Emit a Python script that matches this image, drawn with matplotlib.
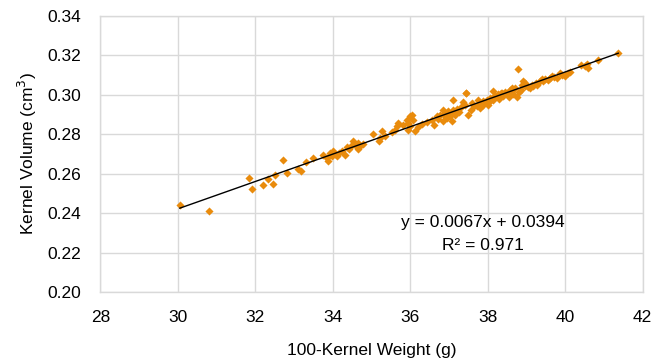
import numpy as np
import matplotlib
matplotlib.use("Agg")
import matplotlib.pyplot as plt

plt.rcParams['font.family'] = ['Liberation Sans', 'DejaVu Sans']

weight_g = [
    30.05, 30.80, 31.84, 31.91, 32.19, 32.32, 32.46, 32.51, 32.72, 32.81,
    33.11, 33.19, 33.30, 33.49, 33.75, 33.84, 33.88, 34.01, 33.93, 34.23,
    34.31, 34.36, 34.53, 34.57, 34.66, 34.70, 34.49, 34.62, 34.66, 34.10,
    35.03, 35.22, 35.20, 35.28, 35.53, 35.60, 35.69, 35.65, 35.91, 35.95,
    35.99, 36.04, 36.08, 35.99, 36.12, 35.95, 36.44, 36.62, 36.68, 36.77,
    36.85, 36.89, 36.94, 37.02, 37.07, 36.85, 36.98, 37.11, 37.15, 37.11,
    37.35, 37.44, 37.50, 37.58, 37.71, 37.80, 37.88, 37.97, 38.06, 38.14,
    38.23, 38.14, 38.79, 38.92, 39.00, 38.96, 38.88, 39.18, 39.26, 39.35,
    39.39, 39.48, 39.61, 39.65, 39.86, 39.91, 39.99, 40.08, 40.12, 40.42,
    40.51, 40.55, 40.59, 40.85, 41.37, 37.81, 37.89, 37.97, 38.06, 38.19,
    38.27, 38.36, 38.49, 38.62, 38.66, 38.57, 38.70, 38.75, 38.62, 39.13,
    37.45, 37.30, 37.60, 36.95, 37.20, 37.40, 37.65, 37.75, 38.00, 38.10,
    38.30, 38.40, 38.45, 38.55, 38.80, 38.85, 39.05, 39.10, 39.25, 39.55,
    39.70, 39.80, 40.00, 36.55, 36.72, 36.90, 37.05, 37.25, 33.98, 34.05,
    34.15, 34.42, 34.78, 35.35, 35.80, 36.30, 36.20, 38.35, 38.95, 39.42,
]
volume_cm3 = [
    0.2442, 0.2412, 0.2577, 0.2522, 0.2544, 0.2574, 0.2549, 0.2595, 0.2671, 0.2603,
    0.2624, 0.2612, 0.2659, 0.2679, 0.2696, 0.2679, 0.2662, 0.2713, 0.2705, 0.2713,
    0.2697, 0.2736, 0.2764, 0.2747, 0.2756, 0.2739, 0.2747, 0.2746, 0.2724, 0.2690,
    0.2803, 0.2781, 0.2764, 0.2819, 0.2810, 0.2824, 0.2858, 0.2841, 0.2874, 0.2858,
    0.2891, 0.2900, 0.2874, 0.2841, 0.2815, 0.2820, 0.2861, 0.2849, 0.2891, 0.2900,
    0.2925, 0.2908, 0.2883, 0.2891, 0.2866, 0.2866, 0.2916, 0.2925, 0.2900, 0.2976,
    0.2962, 0.3007, 0.2900, 0.2925, 0.2942, 0.2934, 0.2950, 0.2959, 0.2967, 0.2976,
    0.2993, 0.3018, 0.3129, 0.3069, 0.3052, 0.3061, 0.3052, 0.3044, 0.3052, 0.3069,
    0.3078, 0.3078, 0.3087, 0.3095, 0.3112, 0.3103, 0.3103, 0.3112, 0.3115, 0.3149,
    0.3146, 0.3159, 0.3137, 0.3176, 0.3213, 0.2959, 0.2967, 0.2976, 0.2985, 0.2993,
    0.3002, 0.3007, 0.3010, 0.3018, 0.3002, 0.3027, 0.3035, 0.2991, 0.3034, 0.3051,
    0.3009, 0.2940, 0.2960, 0.2895, 0.2930, 0.2950, 0.2945, 0.2975, 0.2950, 0.2985,
    0.2980, 0.2995, 0.3015, 0.2990, 0.3015, 0.3025, 0.3040, 0.3035, 0.3060, 0.3075,
    0.3090, 0.3085, 0.3095, 0.2875, 0.2880, 0.2895, 0.2905, 0.2915, 0.2690, 0.2700,
    0.2705, 0.2725, 0.2750, 0.2790, 0.2845, 0.2850, 0.2835, 0.3010, 0.3045, 0.3070,
]

x_ticks = [28, 30, 32, 34, 36, 38, 40, 42]
y_ticks = [0.20, 0.22, 0.24, 0.26, 0.28, 0.30, 0.32, 0.34]

fig = plt.figure(figsize=(6.58, 3.64), dpi=100)
ax = fig.add_axes([0.1527, 0.1978, 0.8240, 0.7582])

ax.scatter(weight_g, volume_cm3, marker='D', s=17, color='#E98B0C', linewidths=0, zorder=3)

xa = np.array(weight_g)
ya = np.array(volume_cm3)
slope, intercept = np.polyfit(xa, ya, 1)
xl = np.array([xa.min(), xa.max()])
ax.plot(xl, slope * xl + intercept, color='black', linewidth=1.0, zorder=4)

ax.set_xlim(28, 42)
ax.set_ylim(0.20, 0.34)
ax.set_xticks(x_ticks)
ax.set_yticks(y_ticks)
ax.set_xticklabels([str(v) for v in x_ticks])
ax.set_yticklabels([f"{v:.2f}" for v in y_ticks])
ax.grid(True, color='#D9D9D9', linewidth=1.0, zorder=0)
ax.set_axisbelow(True)
for sp in ax.spines.values():
    sp.set_color('#D9D9D9')
    sp.set_linewidth(1.0)
ax.tick_params(length=0, labelsize=12.5, colors='black')
ax.tick_params(axis='y', pad=14)
ax.tick_params(axis='x', pad=13)

ax.set_xlabel('100-Kernel Weight (g)', fontsize=12.5, labelpad=13)
ax.set_ylabel('Kernel Volume (cm$^3$)', fontsize=12.5, labelpad=6)

ax.text(0.705, 0.252, 'y = 0.0067x + 0.0394', transform=ax.transAxes, ha='center', va='center', fontsize=12.5)
ax.text(0.705, 0.170, 'R² = 0.971', transform=ax.transAxes, ha='center', va='center', fontsize=12.5)

fig.savefig('out.png', dpi=100)
